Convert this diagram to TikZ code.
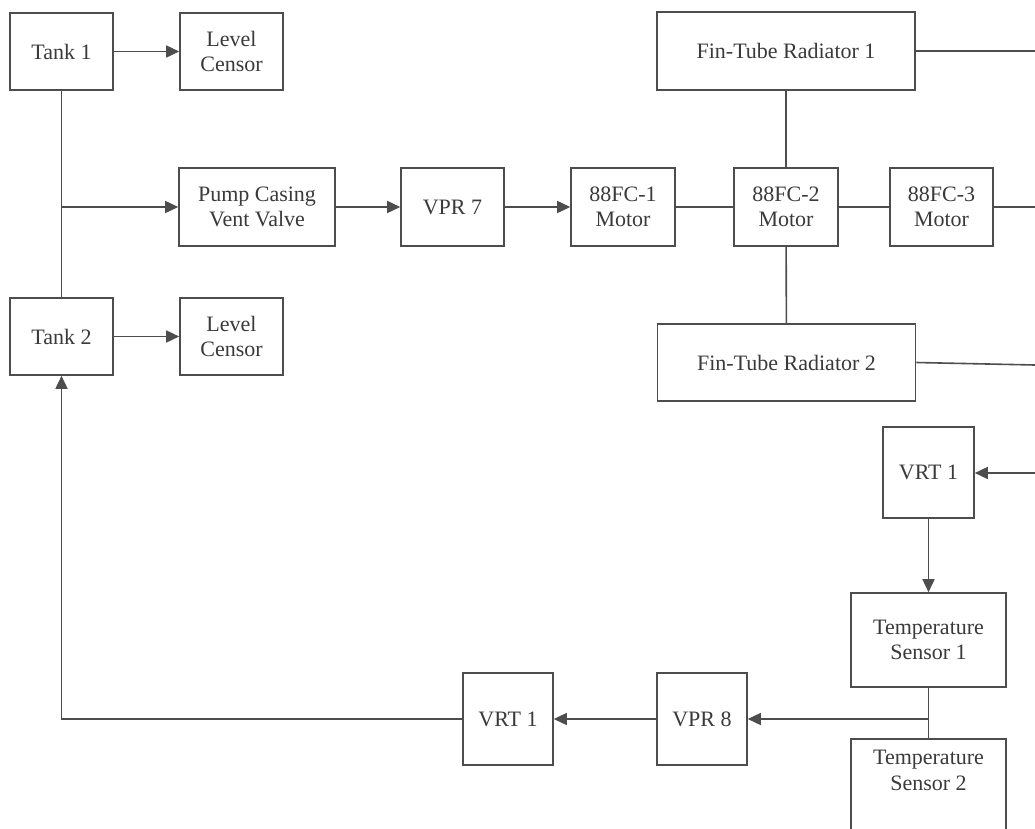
\documentclass[tikz,border=0pt]{standalone}
\usepackage{fontspec}
\setmainfont{Liberation Serif}
\usetikzlibrary{arrows.meta}
\definecolor{lncol}{HTML}{4D4D4D}
\definecolor{txcol}{HTML}{3A3A3A}
\tikzset{
  blk/.style={draw=lncol, line width=1.6pt, rectangle, align=center, inner sep=0pt,
    text=txcol, font=\fontsize{22}{25.5}\selectfont},
  ln/.style={draw=lncol, line width=1.6pt},
  arr/.style={ln, -{Triangle[length=13pt,width=12pt]}}
}
\begin{document}
\begin{tikzpicture}[x=1pt,y=-1pt]
\fill[white] (0,0) rectangle (1035,829);
\clip (0,0) rectangle (1035,829);
\useasboundingbox (0,0) rectangle (1035,829);
% nodes
\node[blk, minimum width=103pt, minimum height=77pt] (tank1) at (61.5,51.5) {Tank 1};
\node[blk, minimum width=103pt, minimum height=77pt] (lc1) at (231.5,51.5) {Level\\Censor};
\node[blk, minimum width=156pt, minimum height=78pt] (pump) at (257,207) {Pump Casing\\Vent Valve};
\node[blk, minimum width=103pt, minimum height=77pt] (tank2) at (61.5,336.5) {Tank 2};
\node[blk, minimum width=103pt, minimum height=77pt] (lc2) at (231.5,336.5) {Level\\Censor};
\node[blk, minimum width=103pt, minimum height=78pt] (vpr7) at (452.5,207) {VPR 7};
\node[blk, minimum width=104pt, minimum height=78pt] (fc1) at (623,207) {88FC-1\\Motor};
\node[blk, minimum width=104pt, minimum height=78pt] (fc2) at (786,207) {88FC-2\\Motor};
\node[blk, minimum width=103pt, minimum height=78pt] (fc3) at (941.5,207) {88FC-3\\Motor};
\node[blk, minimum width=258pt, minimum height=78pt] (rad1) at (786,51) {Fin-Tube Radiator 1};
\node[blk, minimum width=258pt, minimum height=77pt] (rad2) at (786.5,362.5) {Fin-Tube Radiator 2};
\node[blk, minimum width=91pt, minimum height=91pt] (vrtR) at (928.5,472.5) {VRT 1};
\node[blk, minimum width=155pt, minimum height=94pt] (ts1) at (928.5,640) {Temperature\\Sensor 1};
\node[blk, minimum width=155pt, minimum height=96pt, anchor=north] (ts2) at (928.5,738) {Temperature\\Sensor 2\\ \strut};
\node[blk, minimum width=90pt, minimum height=92pt] (vpr8) at (702,719) {VPR 8};
\node[blk, minimum width=90pt, minimum height=92pt] (vrtL) at (508,719) {VRT 1};
% free ends
\coordinate (jp) at (61.5,207);
\coordinate (e1) at (1035,51);
\coordinate (e2) at (1035,207);
\coordinate (e3) at (1035,365);
\coordinate (e4) at (1035,473);
\coordinate (jt) at (928.5,719);
\coordinate (bl) at (61.5,719);
% connectors
\draw[arr] (tank1) -- (lc1);
\draw[arr] (tank2) -- (lc2);
\draw[ln] (tank1) -- (tank2);
\draw[arr] (jp) -- (pump);
\draw[arr] (pump) -- (vpr7);
\draw[arr] (vpr7) -- (fc1);
\draw[ln] (fc1) -- (fc2);
\draw[ln] (fc2) -- (fc3);
\draw[ln] (fc2) -- (rad1);
\draw[ln] (fc2) -- (rad2);
\draw[ln] (rad1.east) -- (e1);
\draw[ln] (fc3.east) -- (e2);
\draw[ln] (rad2.east) -- (e3);
\draw[arr] (e4) -- (vrtR.east |- e4);
\draw[arr] (vrtR) -- (ts1);
\draw[ln] (ts1) -- (ts2);
\draw[arr] (jt) -- (vpr8);
\draw[arr] (vpr8) -- (vrtL);
\draw[arr] (vrtL.west) -- (bl) -- (tank2.south);
\end{tikzpicture}
\end{document}
